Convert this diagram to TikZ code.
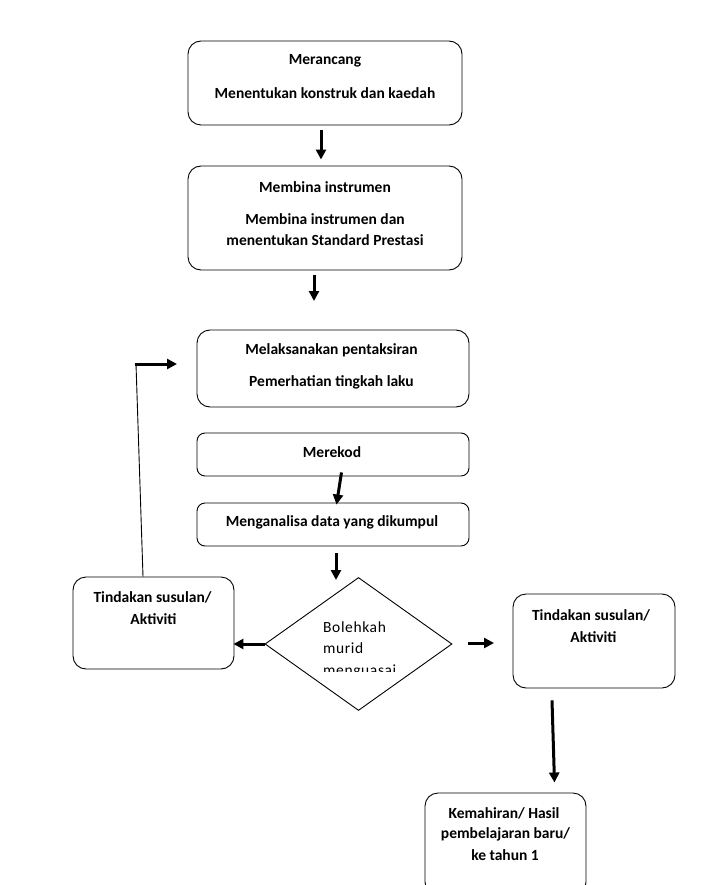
\documentclass[tikz,border=0pt]{standalone}
\usepackage{fontspec}
\setmainfont{Carlito}
\usetikzlibrary{arrows.meta,calc,shapes.geometric}
\begin{document}
\begin{tikzpicture}[x=1pt,y=-1pt,
  box/.style={draw,line width=0.9pt,rounded corners=13pt,inner sep=0pt},
  smallbox/.style={draw,line width=0.9pt,rounded corners=8pt,inner sep=0pt},
  lbl/.style={font=\fontsize{15.5}{18}\selectfont\bfseries,inner sep=0pt,anchor=center},
  dlbl/.style={font=\fontsize{15.5}{18}\selectfont\addfontfeatures{LetterSpace=4},inner sep=0pt,anchor=base west},
  arr/.style={line width=3pt,-{Triangle[length=10pt,width=10pt]}},
  thin/.style={line width=0.9pt},
]
\useasboundingbox (0,0) rectangle (718,885);
\fill[white] (0,0) rectangle (718,885);

% boxes
\node[box,minimum width=274pt,minimum height=84pt] (b1) at (325,83) {};
\node[box,minimum width=274pt,minimum height=104pt] (b2) at (325,218) {};
\node[box,minimum width=272pt,minimum height=77pt] (b3) at (333,368.5) {};
\node[smallbox,minimum width=272pt,minimum height=43pt] (b4) at (333,454.5) {};
\node[smallbox,minimum width=272pt,minimum height=43pt] (b5) at (333,524.5) {};
\node[draw,thin,shape=diamond,minimum width=187pt,minimum height=133pt,inner sep=0pt] (d) at (358.5,644) {};
\node[box,minimum width=161pt,minimum height=92pt] (bl) at (153.5,623) {};
\node[box,minimum width=162pt,minimum height=94pt] (br) at (594,641) {};
\node[box,minimum width=161pt,minimum height=102pt] (bb) at (505.5,844) {};

% texts
\node[lbl] (t1a) at (325,61) {Merancang};
\node[lbl] (t1b) at (325,93) {Menentukan konstruk dan kaedah};
\node[lbl] (t2a) at (325,187) {Membina instrumen};
\node[lbl] (t2b) at (325,219) {Membina instrumen dan};
\node[lbl] (t2c) at (325,240) {menentukan Standard Prestasi};
\node[lbl] (t3a) at (331.5,350) {Melaksanakan pentaksiran};
\node[lbl] (t3b) at (331.5,382) {Pemerhatian tingkah laku};
\node[lbl] (t4) at (332,452) {Merekod};
\node[lbl] (t5) at (332,522) {Menganalisa data yang dikumpul};
\node[lbl] (tla) at (152.5,597) {Tindakan susulan/};
\node[lbl] (tlb) at (153.5,619) {Aktiviti};
\node[lbl] (tra) at (591,615) {Tindakan susulan/};
\node[lbl] (trb) at (593.5,637) {Aktiviti};
\node[lbl] (tba) at (504,813) {Kemahiran/ Hasil};
\node[lbl] (tbb) at (505.5,834) {pembelajaran baru/};
\node[lbl] (tbc) at (505,855) {ke tahun 1};

% diamond text (clipped)
\begin{scope}
  \clip (300,605) rectangle (420,671);
  \node[dlbl] (tda) at (323,632) {Bolehkah};
  \node[dlbl] (tdb) at (323,653.5) {murid};
  \node[dlbl] (tdc) at (323,675) {menguasai};
\end{scope}

% free connector ends
\coordinate (e2) at (314,301);
\coordinate (e4s) at (336,553);
\coordinate (e4) at (336,580);
\coordinate (r1) at (468,643);
\coordinate (r2) at (494,643);
\coordinate (f1) at (136,364);
\coordinate (f2) at (177,364);

% connectors
\draw[arr] ([xshift=-4pt,yshift=-5pt]b1.south) -- ([xshift=-4pt,yshift=6pt]b2.north);
\draw[arr] ([xshift=-11pt,yshift=-5pt]b2.south) -- (e2);
\draw[arr] ([xshift=8.5pt,yshift=4pt]b4.south) -- ([xshift=3.5pt,yshift=-2pt]b5.north);
\draw[arr] (e4s) -- (e4);
\draw[arr] (d.west) -- ([xshift=-1pt]bl.east |- d.west);
\draw[arr] (r1) -- (r2);
\draw[arr] ([xshift=-42pt,yshift=-12pt]br.south) -- ([xshift=49pt,yshift=10pt]bb.north);
\draw[thin] ([xshift=-10.5pt]bl.north) -- (f1);
\draw[arr] ([xshift=-1.3pt]f1) -- (f2);
\end{tikzpicture}
\end{document}
